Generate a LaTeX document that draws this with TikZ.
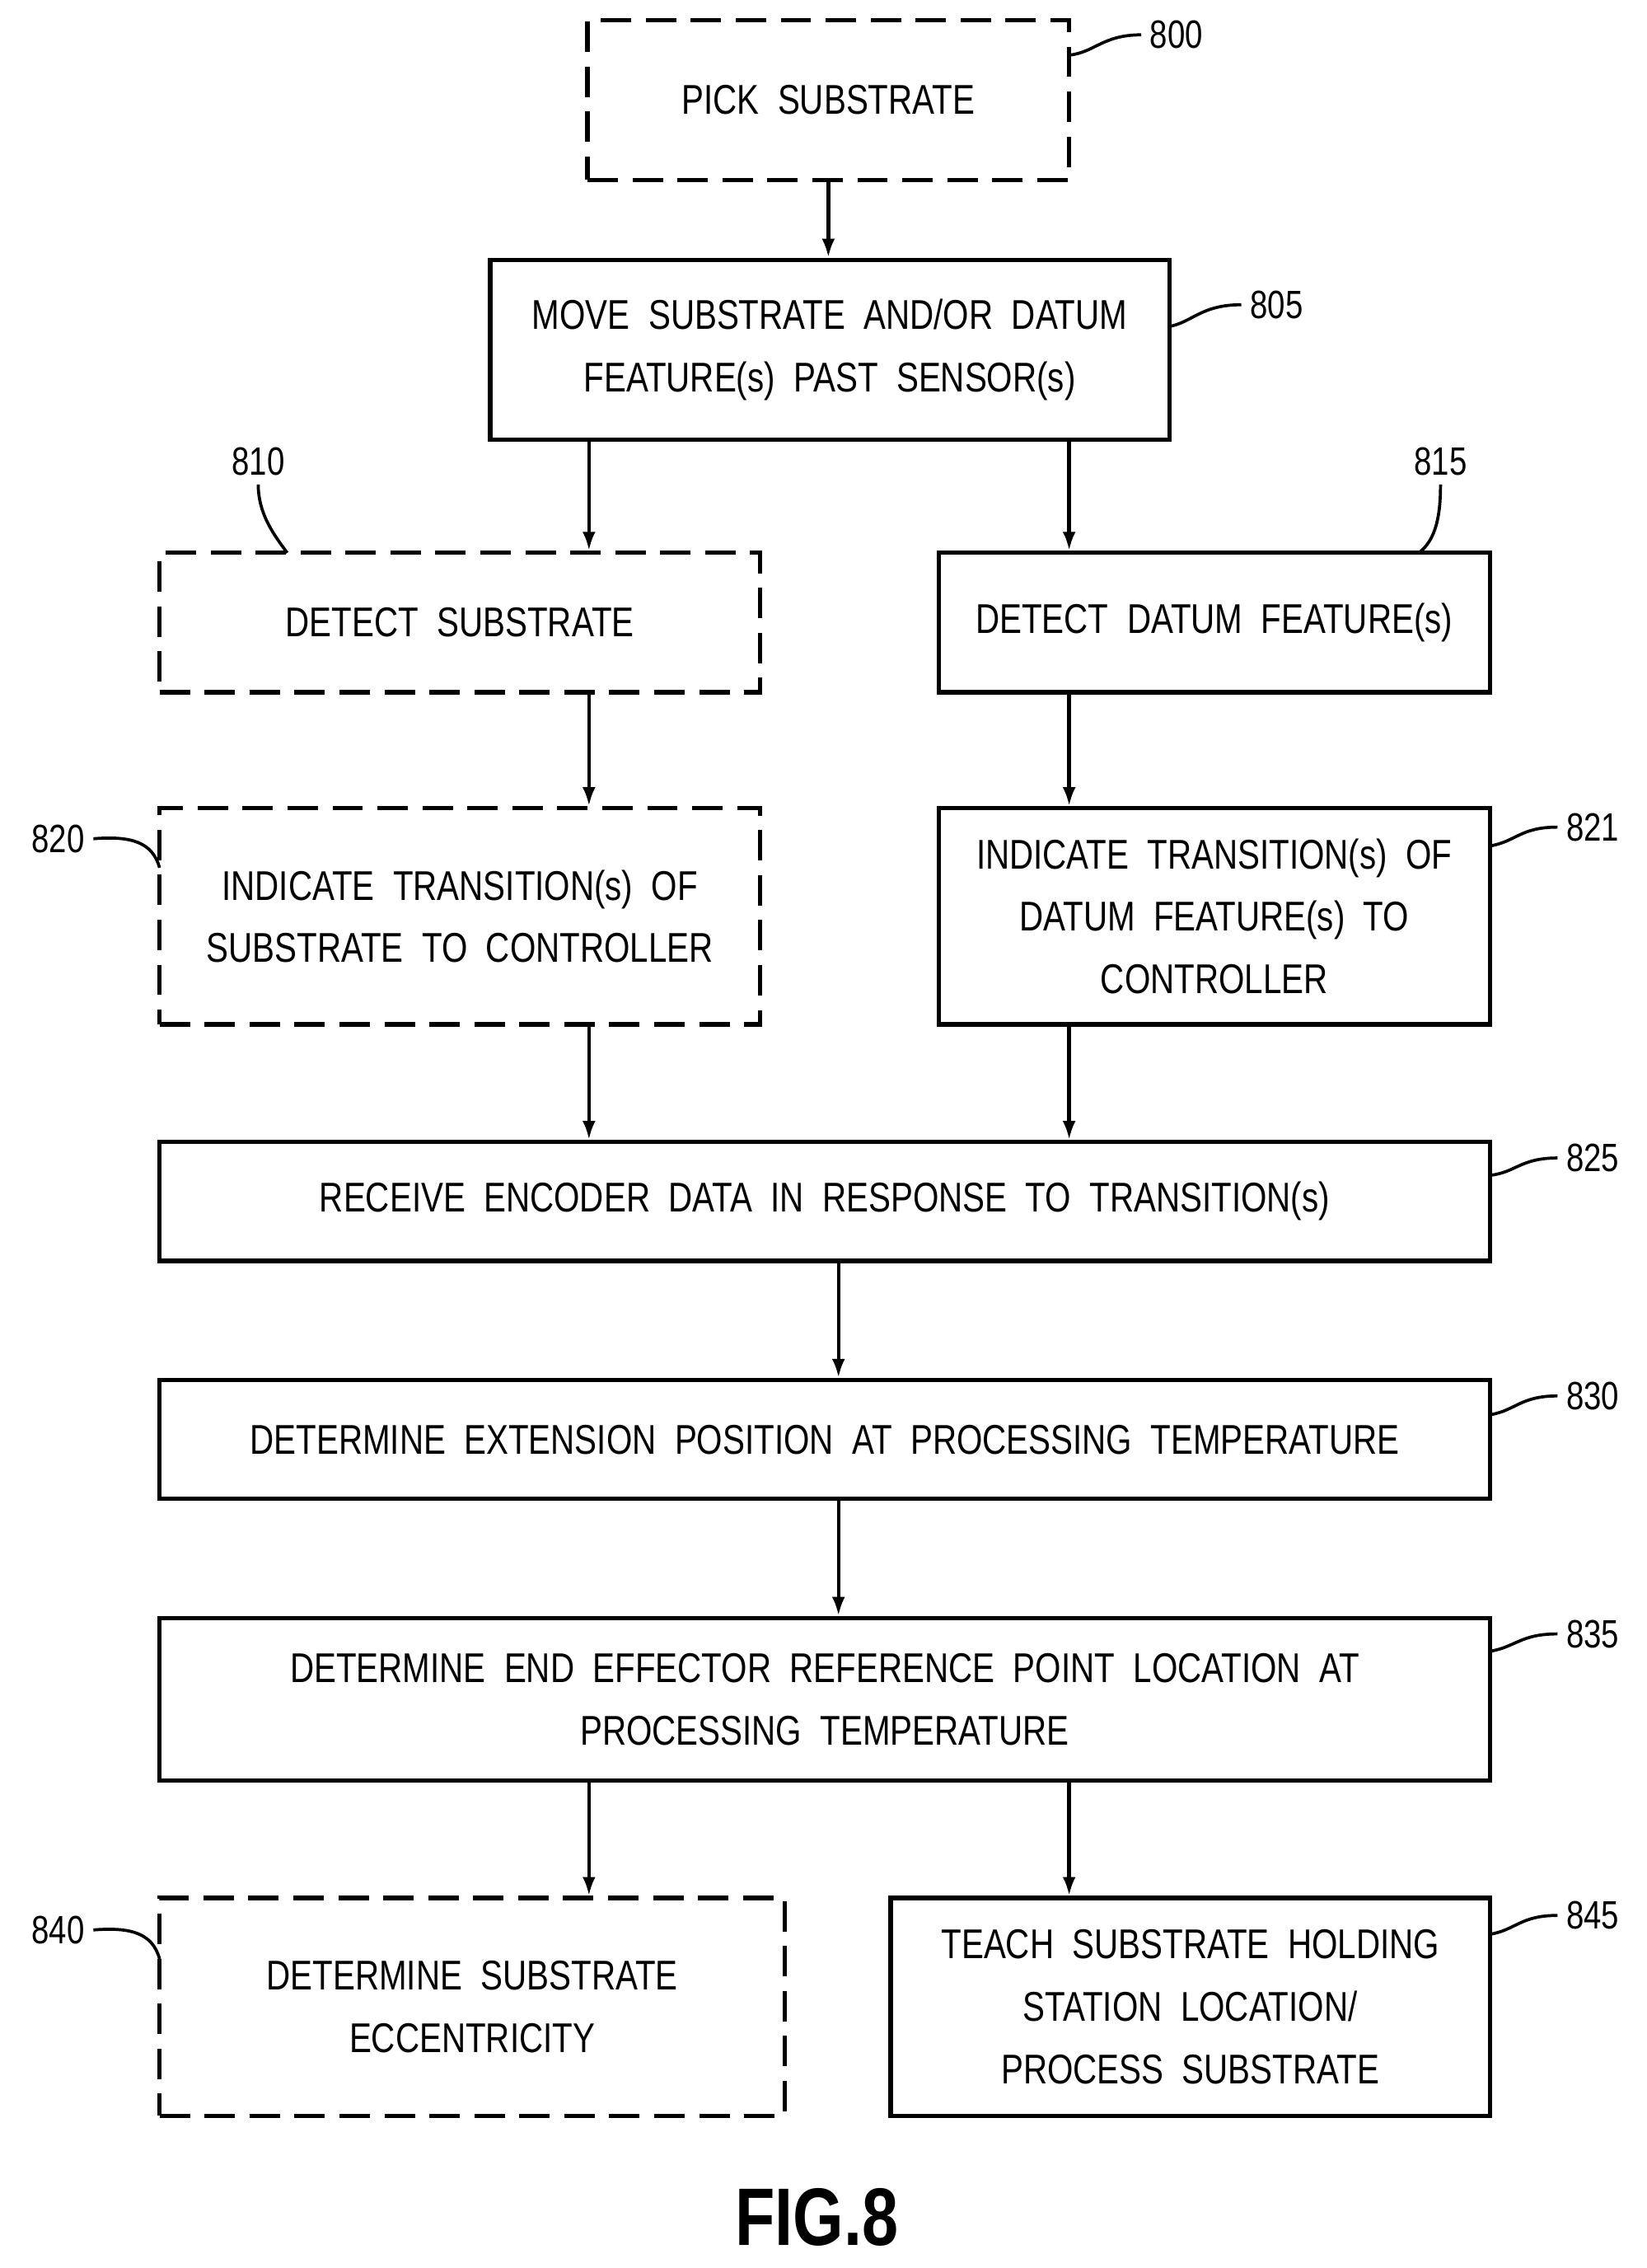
\documentclass[tikz,border=0pt]{standalone}
\usepackage{fontspec}
\setmainfont{Liberation Sans}[FakeStretch=0.8]
\usetikzlibrary{fit,arrows.meta}
\begin{document}
\begin{tikzpicture}[x=0.02cm,y=-0.02cm,
  bx/.style={draw,line width=1.7pt,inner sep=0pt},
  dbx/.style={bx,dash pattern=on 0.42cm off 0.2cm},
  txt/.style={font=\fontsize{16.3}{24.5}\selectfont,align=center},
  lab/.style={font=\fontsize{15.5}{18}\selectfont},
  arr/.style={line width=1.4pt,-{Latex[length=0.26cm,width=0.18cm]}},
  ld/.style={line width=1.2pt}]
\useasboundingbox (0,0) rectangle (1135,1563);
\newcommand\mybox[7]{\node[#6,fit={(#2,#3) (#4,#5)}] (#1) {};
  \node[txt] (#1t) at (#1.center) {#7};}
\mybox{b800}{405}{14}{737}{124}{dbx}{PICK\ \ SUBSTRATE}
\mybox{b805}{338}{179}{806}{303}{bx}{MOVE\ \ SUBSTRATE\ \ AND/OR\ \ DATUM\\FEATURE(s)\ \ PAST\ \ SENSOR(s)}
\mybox{b810}{110}{381}{524}{477}{dbx}{DETECT\ \ SUBSTRATE}
\mybox{b815}{647}{381}{1027}{477}{bx}{DETECT\ \ DATUM\ \ FEATURE(s)}
\mybox{b820}{110}{557}{524}{706}{dbx}{INDICATE\ \ TRANSITION(s)\ \ OF\\SUBSTRATE\ \ TO\ \ CONTROLLER}
\mybox{b821}{647}{557}{1027}{706}{bx}{INDICATE\ \ TRANSITION(s)\ \ OF\\DATUM\ \ FEATURE(s)\ \ TO\\CONTROLLER}
\mybox{b825}{110}{787}{1027}{869}{bx}{RECEIVE\ \ ENCODER\ \ DATA\ \ IN\ \ RESPONSE\ \ TO\ \ TRANSITION(s)}
\mybox{b830}{110}{951}{1027}{1033}{bx}{DETERMINE\ \ EXTENSION\ \ POSITION\ \ AT\ \ PROCESSING\ \ TEMPERATURE}
\mybox{b835}{110}{1115}{1027}{1227}{bx}{DETERMINE\ \ END\ \ EFFECTOR\ \ REFERENCE\ \ POINT\ \ LOCATION\ \ AT\\PROCESSING\ \ TEMPERATURE}
\mybox{b840}{110}{1308}{541}{1458}{dbx}{DETERMINE\ \ SUBSTRATE\\ECCENTRICITY}
\mybox{b845}{614}{1308}{1027}{1458}{bx}{TEACH\ \ SUBSTRATE\ \ HOLDING\\STATION\ \ LOCATION/\\PROCESS\ \ SUBSTRATE}
% arrows
\draw[arr] (b800.south -| 571,0) -- (b805.north -| 571,0);
\draw[arr] (b805.south -| 406,0) -- (b810.north -| 406,0);
\draw[arr] (b805.south -| 737,0) -- (b815.north -| 737,0);
\draw[arr] (b810.south -| 406,0) -- (b820.north -| 406,0);
\draw[arr] (b815.south -| 737,0) -- (b821.north -| 737,0);
\draw[arr] (b820.south -| 406,0) -- (b825.north -| 406,0);
\draw[arr] (b821.south -| 737,0) -- (b825.north -| 737,0);
\draw[arr] (b825.south -| 578,0) -- (b830.north -| 578,0);
\draw[arr] (b830.south -| 578,0) -- (b835.north -| 578,0);
\draw[arr] (b835.south -| 406,0) -- (b840.north -| 406,0);
\draw[arr] (b835.south -| 737,0) -- (b845.north -| 737,0);
% labels
\node[lab] (l800) at (811,24) {800};
\node[lab] (l805) at (880,210) {805};
\node[lab] (l810) at (178,318) {810};
\node[lab] (l815) at (993,318) {815};
\node[lab] (l820) at (40,578) {820};
\node[lab] (l821) at (1098,570) {821};
\node[lab] (l825) at (1098,798) {825};
\node[lab] (l830) at (1098,962) {830};
\node[lab] (l835) at (1098,1126) {835};
\node[lab] (l840) at (40,1330) {840};
\node[lab] (l845) at (1098,1320) {845};
\coordinate (c800) at (737,38);
\draw[ld] (c800) .. controls (755,36) and (760,24) .. (l800.west);
\coordinate (c805) at (806,225);
\draw[ld] (c805) .. controls (822,222) and (828,210) .. (l805.west);
\coordinate (c810) at (198,381);
\draw[ld] (c810) .. controls (190,370) and (178,355) .. (l810.south);
\coordinate (c815) at (978,381);
\draw[ld] (c815) .. controls (990,372) and (993,355) .. (l815.south);
\coordinate (c820) at (110,598);
\draw[ld] (l820.east) .. controls (90,576) and (105,580) .. (c820);
\coordinate (c821) at (1027,583);
\draw[ld] (c821) .. controls (1045,580) and (1048,570) .. (l821.west);
\coordinate (c825) at (1027,810);
\draw[ld] (c825) .. controls (1045,808) and (1048,798) .. (l825.west);
\coordinate (c830) at (1027,975);
\draw[ld] (c830) .. controls (1045,972) and (1048,962) .. (l830.west);
\coordinate (c835) at (1027,1138);
\draw[ld] (c835) .. controls (1045,1135) and (1048,1126) .. (l835.west);
\coordinate (c840) at (110,1350);
\draw[ld] (l840.east) .. controls (90,1328) and (105,1332) .. (c840);
\coordinate (c845) at (1027,1333);
\draw[ld] (c845) .. controls (1045,1330) and (1048,1320) .. (l845.west);
\node[font=\fontsize{32}{38}\selectfont\bfseries] (fig) at (563,1528) {FIG.8};
\end{tikzpicture}
\end{document}
